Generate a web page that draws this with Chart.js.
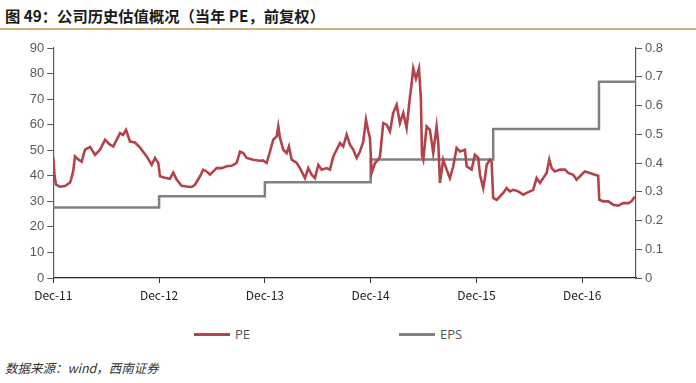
<!DOCTYPE html>
<html>
<head>
<meta charset="utf-8">
<script src="https://cdn.jsdelivr.net/npm/chart.js@4/dist/chart.umd.min.js"></script>
<style>
  html,body{margin:0;padding:0;background:#fff;width:696px;height:383px;overflow:hidden;}
  #title{position:absolute;left:5px;top:6px;font-family:"Noto Sans CJK SC";font-weight:bold;font-size:15.3px;color:#1a1a1a;white-space:nowrap;line-height:18px;}
  #rule{position:absolute;left:0;top:28px;width:696px;height:2px;background:#d2b07a;}
  #wrap{position:absolute;left:0;top:0;width:696px;height:310px;}
  .leg{position:absolute;top:326px;font-family:"Open Sans";font-size:13px;color:#555;line-height:16px;}
  .leg span{display:inline-block;width:36px;height:3px;vertical-align:middle;margin-right:5px;position:relative;top:-1px;}
  #src{position:absolute;left:5px;top:358px;font-family:"Noto Sans CJK SC";font-style:italic;font-size:12.5px;color:#333;white-space:nowrap;}
</style>
</head>
<body>
<div id="title">图 49：公司历史估值概况（当年 PE，前复权）</div>
<div id="rule"></div>
<div id="wrap"><canvas id="c" width="696" height="310"></canvas></div>
<div class="leg" style="left:194px"><span style="background:#b3434a"></span>PE</div>
<div class="leg" style="left:399px"><span style="background:#808080"></span>EPS</div>
<div id="src">数据来源：wind，西南证券</div>
<script>
// months since Dec-2011
const peMonths = [0,0.14,0.31,0.76,1.32,1.89,2.01,2.27,2.46,2.80,3.22,3.60,4.17,4.74,5.30,5.87,6.43,6.81,7.57,7.91,8.25,8.70,9.27,9.84,10.59,11.16,11.54,11.91,12.10,12.66,13.23,13.61,13.99,14.56,15.13,15.70,16.07,16.64,17.01,17.40,17.77,18.15,18.53,19.10,19.67,20.23,20.80,21.18,21.55,21.94,22.68,23.44,23.78,24.20,24.58,24.95,25.34,25.52,25.71,26.09,26.47,26.73,27.04,27.61,27.98,28.55,28.92,29.31,29.68,30.06,30.44,31.01,31.38,31.76,32.14,32.52,32.89,33.28,33.65,34.03,34.41,34.79,35.16,35.47,35.73,35.92,36.11,36.49,36.86,37.06,37.43,37.81,38.19,38.56,38.95,39.32,39.70,40.08,40.46,40.65,40.83,41.14,41.48,41.70,41.82,41.97,42.35,42.72,43.10,43.48,43.67,43.86,44.23,44.62,44.99,45.37,45.75,46.13,46.69,46.89,47.45,47.83,48.20,48.40,48.77,48.96,49.16,49.53,49.72,49.90,50.29,50.66,51.04,51.42,51.80,52.17,52.74,53.31,53.69,54.06,54.44,54.83,55.20,55.58,55.96,56.26,56.53,56.90,57.47,58.04,58.41,58.98,59.36,59.74,60.30,60.87,61.44,61.81,61.93,62.38,62.95,63.51,64.08,64.65,65.22,65.60,65.97];
const peValues = [47,40,36.5,35.7,36,37.3,38.5,42,47.6,46.5,45.5,50.2,51.3,48.2,50.2,54.1,52.2,51.5,56.7,56,58,53.4,53,51,47.6,44.3,47,45,39.8,39.2,38.8,41.2,38.5,36.1,35.8,35.6,36.5,39.8,42.4,41.7,40.4,41.7,43,43,43.7,43.9,45,49.5,48.9,47,46.3,45.9,46,45,49.5,54.1,55.4,59.3,54.8,50.2,48.9,51.5,46.3,45,43,39.1,43,40.4,39.1,44.3,42.4,43,42.4,47.6,50.2,52.8,51.5,56.1,52.2,50.2,47,49.5,53.4,61.9,57.4,54.8,41.1,45,46.3,47.6,60.6,60,57.4,64.6,67.8,60.6,64.6,58.7,71,76,82,78,82,70,48,46.3,59.3,58,48.9,59.3,53,37.2,46.3,42.4,39.1,43.7,50.9,49.5,50.2,43.7,42.4,48.2,47,40.4,35.2,39.1,44.3,46.3,45.5,31.3,30.6,31.9,33.3,35.2,33.9,34.5,33.9,32.6,33.3,33.9,34.5,39.1,37.2,39.1,41.1,46.3,43,41.7,42.4,42.4,41.1,40.4,38.5,39.8,41.7,41.1,40.4,40,30.6,30,30,28.7,28.3,29.3,29.3,30,31.9];
const epsMonths = [0,12,24,36,49.9,61.9,66.1];
const epsValues = [0.245,0.284,0.333,0.412,0.518,0.683,0.683];
const xTickLabels = ['Dec-11','Dec-12','Dec-13','Dec-14','Dec-15','Dec-16'];
const xTickMonths = [0,12,24,36,48,60];

const pePoints = peMonths.map((m,i)=>({x:m,y:peValues[i]}));
const epsPoints = epsMonths.map((m,i)=>({x:m,y:epsValues[i]}));

new Chart(document.getElementById('c'),{
  type:'line',
  data:{datasets:[
    {label:'PE',data:pePoints,yAxisID:'y',borderColor:'#b3434a',borderWidth:2.6,pointRadius:0,tension:0,order:1},
    {label:'EPS',data:epsPoints,yAxisID:'y1',borderColor:'#808080',borderWidth:2.5,pointRadius:0,stepped:true,order:2}
  ]},
  options:{
    responsive:false,animation:false,
    layout:{padding:{top:48,left:0,right:0,bottom:0}},
    plugins:{legend:{display:false},tooltip:{enabled:false}},
    scales:{
      x:{type:'linear',min:0,max:66.1,
        afterBuildTicks:(s)=>{s.ticks=xTickMonths.map(v=>({value:v}));},
        afterFit:(s)=>{s.height=32;},
        grid:{drawOnChartArea:false,color:'#333',tickLength:5},
        border:{color:'#222',width:1.2},
        ticks:{autoSkip:false,maxRotation:0,padding:5,color:'#222',font:{family:'"Noto Sans CJK JP"',size:12},
          callback:(v)=>{const i=xTickMonths.indexOf(v);return i>=0?xTickLabels[i]:'';}}
      },
      y:{position:'left',min:0,max:90,
        afterFit:(s)=>{s.width=53.3;},
        grid:{drawOnChartArea:false,color:'#595959',tickLength:6},
        border:{color:'#595959',width:1.2},
        ticks:{stepSize:10,padding:3,color:'#595959',font:{family:'"Liberation Sans"',size:13}}
      },
      y1:{position:'right',min:0,max:0.8,
        afterFit:(s)=>{s.width=60;},
        grid:{drawOnChartArea:false,color:'#595959',tickLength:6},
        border:{color:'#595959',width:1.2},
        ticks:{stepSize:0.1,padding:3,color:'#595959',font:{family:'"Liberation Sans"',size:13},
          callback:(v)=>v===0?'0':v.toFixed(1)}
      }
    }
  }
});
</script>
</body>
</html>
